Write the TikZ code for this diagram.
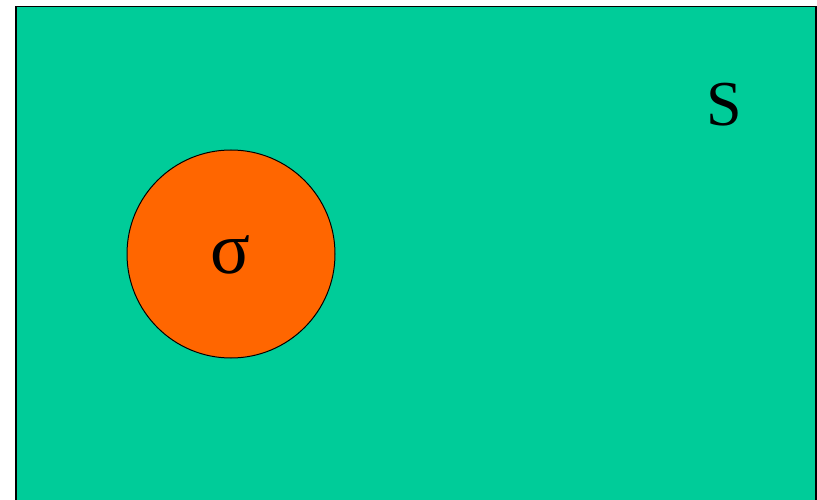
\documentclass[tikz,border=0pt]{standalone}
\usepackage{fontspec}
\setmainfont{Liberation Serif}
\definecolor{setgreen}{HTML}{00CC99}
\definecolor{setorange}{HTML}{FF6600}
\tikzset{lbl/.style={font=\fontsize{64}{70}\selectfont, inner sep=0pt, anchor=center}}
\begin{document}
\begin{tikzpicture}[x=1pt,y=-1pt]
\useasboundingbox (0,0) rectangle (817,500);
\clip (0,0) rectangle (817,500);
\fill[white] (0,0) rectangle (817,500);
\node[draw=black, line width=1.5pt, fill=setgreen, minimum width=800pt, minimum height=510pt, inner sep=0pt, anchor=north west] (S) at (15,6) {};
\node[draw=black, line width=1pt, fill=setorange, circle, minimum size=208pt, inner sep=0pt] (c) at (231,254) {};
\node[lbl, font=\fontsize{74}{80}\selectfont] (sig) at (230,255) {σ};
\node[lbl] (s) at (724,105) {S};
\end{tikzpicture}
\end{document}
